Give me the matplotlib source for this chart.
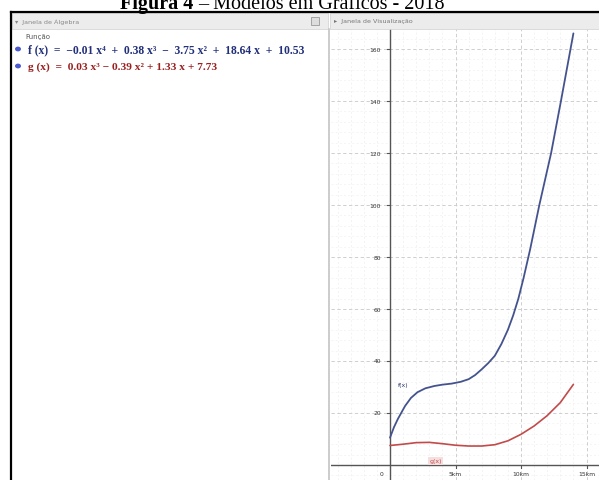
import matplotlib
matplotlib.use('Agg')
import matplotlib.pyplot as plt
from matplotlib.patches import Rectangle, Circle
from matplotlib.lines import Line2D

W, H = 599, 481

# curva azul f(x)
f_x = [0.0, 0.3, 0.6, 1.15, 1.6, 2.1, 2.7, 3.4, 4.0, 4.7, 5.4, 6.0, 6.5, 7.0, 7.5,
       8.0, 8.5, 9.0, 9.4, 9.8, 10.2, 10.7, 11.4, 12.3, 13.05, 14.0]
f_y = [10.5, 14.5, 17.7, 22.7, 25.8, 28.0, 29.5, 30.4, 30.9, 31.3, 32.0, 33.0, 34.6, 36.8, 39.2,
       42.0, 46.5, 52.0, 57.5, 64.0, 72.0, 83.0, 100.0, 120.0, 140.0, 166.0]

# curva vermelha g(x)
g_x = [0.0, 1, 2, 3, 4, 5, 6, 7, 8, 9, 10, 11, 12, 13, 14]
g_y = [7.5, 8.0, 8.6, 8.7, 8.2, 7.6, 7.3, 7.3, 7.8, 9.3, 11.8, 15.0, 19.0, 24.0, 31.0]

y_ticks = [20, 40, 60, 80, 100, 120, 140, 160]
x_ticks = [5, 10, 15]
x_labels = ['5km', '10km', '15km']

f_txt = 'f (x)  =  −0.01 x⁴  +  0.38 x³  −  3.75 x²  +  18.64 x  +  10.53'
g_txt = 'g (x)  =  0.03 x³ − 0.39 x² + 1.33 x + 7.73'

BLUE = '#44538e'
RED = '#c24a4a'


def fx(x):
    return x / W


def fy(y):
    return 1 - y / H


fig = plt.figure(figsize=(W / 100, H / 100), dpi=100)
fig.patch.set_facecolor('white')
renderer = fig.canvas.get_renderer()

# titulo (cortado no topo)
t1 = fig.text(fx(120), fy(9), 'Figura 4 ', fontsize=14.5, fontweight='bold',
              family='Liberation Serif', va='baseline', ha='left')
bb = t1.get_window_extent(renderer)
fig.text(bb.x1 / W, fy(9), '– Modelos em Gráficos - 2018', fontsize=14.5,
         family='Liberation Serif', va='baseline', ha='left')

# area do grafico
L, R, T, B = 331, 599, 30, 481
x0_px, y0_px = 390, 466
sx, sy = 13.1, 2.6
ax = fig.add_axes([fx(L), fy(B), (R - L) / W, (B - T) / H])
ax.set_xlim((L - x0_px) / sx, (R - x0_px) / sx)
ax.set_ylim((y0_px - B) / sy, (y0_px - T) / sy)
for s in ax.spines.values():
    s.set_visible(False)
ax.set_xticks([])
ax.set_yticks([])

# grade
for xv in [i for i in range(-4, 17) if i % 5 != 0]:
    ax.axvline(xv, color='#efefef', lw=0.5, ls=(0, (3, 3)), zorder=0)
for yv in range(-4, 168, 4):
    if yv % 20 != 0:
        ax.axhline(yv, color='#f2f2f2', lw=0.5, ls=(0, (3, 3)), zorder=0)
for xv in [-5, 5, 10, 15]:
    ax.axvline(xv, color='#c8c8c8', lw=0.6, ls=(0, (4, 3)), zorder=0)
for yv in y_ticks:
    ax.axhline(yv, color='#c8c8c8', lw=0.6, ls=(0, (4, 3)), zorder=0)

# eixos
ax.axhline(0, color='#555555', lw=1.0, zorder=2)
ax.axvline(0, color='#555555', lw=1.0, zorder=2)
ax.annotate('', xy=(0, (y0_px - 29) / sy), xytext=(0, 150),
            arrowprops=dict(arrowstyle='-|>', color='#555555', lw=1.0,
                            mutation_scale=6), zorder=2)

for yv in y_ticks:
    ax.plot([-0.25, 0], [yv, yv], color='#555555', lw=0.8)
    ax.text(-0.7, yv, str(yv), fontsize=4.3, ha='right', va='center', color='#333333')
for xv, lab in zip(x_ticks, x_labels):
    ax.plot([xv, xv], [0, -1.2], color='#555555', lw=0.8)
    ax.text(xv, -3.2, lab, fontsize=4.3, ha='center', va='center', color='#333333')
ax.text(-0.5, -3.2, '0', fontsize=4.3, ha='right', va='center', color='#333333')

ax.plot(f_x, f_y, color=BLUE, lw=1.3, zorder=3, solid_capstyle='round')
ax.plot(g_x, g_y, color=RED, lw=1.2, zorder=3, solid_capstyle='round')
ax.text(0.6, 31, 'f(x)', fontsize=4.5, color='#2d3a6e', ha='left', va='center')
ax.text(3.0, 1.6, 'g(x)', fontsize=4.5, color=RED, ha='left', va='center',
        bbox=dict(boxstyle='square,pad=0.2', fc='#f6dede', ec='none'))

# paineis e cabecalhos
fig.add_artist(Rectangle((fx(12), fy(30)), (328 - 12) / W, 16 / H,
                         transform=fig.transFigure, fc='#ececec', ec='#d0d0d0', lw=0.5))
fig.add_artist(Rectangle((fx(330), fy(30)), (599 - 330) / W, 16 / H,
                         transform=fig.transFigure, fc='#ececec', ec='#d0d0d0', lw=0.5))
fig.text(fx(15), fy(22), '▾  Janela de Álgebra', fontsize=4.6, color='#888888', va='center')
fig.text(fx(334), fy(22), '▸  Janela de Visualização', fontsize=4.6, color='#777777', va='center')
fig.add_artist(Rectangle((fx(311), fy(26)), 8 / W, 8 / H, transform=fig.transFigure,
                         fc='#dddddd', ec='#999999', lw=0.6))
fig.add_artist(Line2D([fx(329), fx(329)], [fy(30), fy(481)], color='#c4c4c4', lw=1.2))

# moldura preta
fig.add_artist(Line2D([fx(11), fx(599)], [fy(13), fy(13)], color='black', lw=1.6))
fig.add_artist(Line2D([fx(11), fx(11)], [fy(13), fy(481)], color='black', lw=1.6))

# janela de algebra
fig.text(fx(25), fy(37), 'Função', fontsize=5, color='#555555', va='center')
fig.add_artist(Circle((fx(18), fy(50)), 3 / W, transform=fig.transFigure, fc='#4a5bd0', ec='none'))
fig.add_artist(Circle((fx(18), fy(67)), 3 / W, transform=fig.transFigure, fc='#4a5bd0', ec='none'))
fig.text(fx(28), fy(50), f_txt, fontsize=8.4, color='#22307a', va='center',
         family=['Liberation Serif', 'DejaVu Serif'], fontweight='bold')
fig.text(fx(28), fy(67), g_txt, fontsize=8.2, color='#9a1f1f', va='center',
         family=['Liberation Serif', 'DejaVu Serif'], fontweight='bold')

fig.savefig('out.png', dpi=100)
